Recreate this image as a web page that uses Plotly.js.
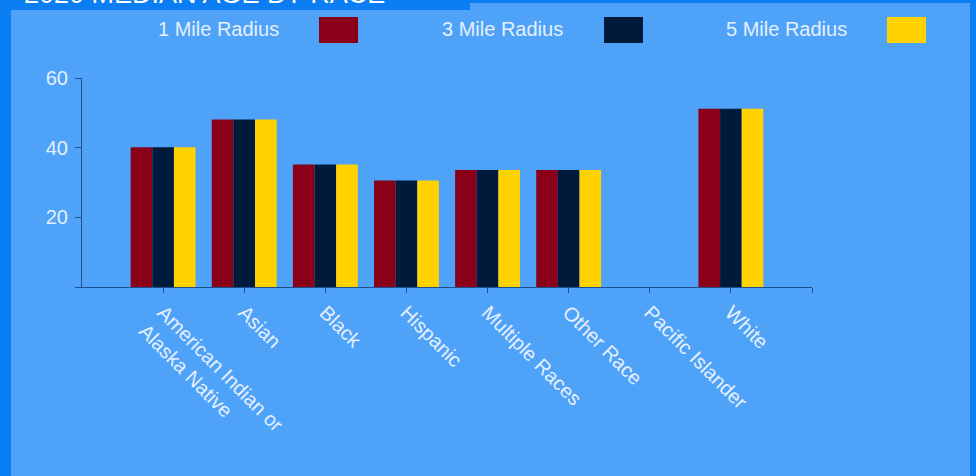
<!DOCTYPE html>
<html>
<head>
<meta charset="utf-8">
<script src="https://cdn.plot.ly/plotly-3.0.1.min.js"></script>
<style>
html,body{margin:0;padding:0;background:#4ea3f8;}
#chart{width:976px;height:476px;}
</style>
</head>
<body>
<div id="chart"></div>
<script>
// ---- data ----
var categories = ["American Indian or<br>Alaska Native", "Asian", "Black", "Hispanic", "Multiple Races", "Other Race", "Pacific Islander", "White"];
var seriesNames = ["1 Mile Radius", "3 Mile Radius", "5 Mile Radius"];
var mile1 = [40.1, 48.1, 35.2, 30.6, 33.6, 33.6, null, 51.2];
var mile3 = [40.1, 48.1, 35.2, 30.6, 33.6, 33.6, null, 51.2];
var mile5 = [40.1, 48.1, 35.2, 30.6, 33.6, 33.6, null, 51.2];
var yTicks = [20, 40, 60];
var titleText = "2020 MEDIAN AGE BY RACE";

// ---- style ----
var colors = ["#8a0019", "#001a3b", "#ffd200"];
var W = 976, H = 476;
var M = {l: 82, r: 164, t: 78, b: 189};
var pw = W - M.l - M.r, ph = H - M.t - M.b;
function px(x){ return (x - M.l) / pw; }
function py(y){ return (H - M.b - y) / ph; }
var textColor = "#e6efff";
var fontFam = "Liberation Sans, Arial, sans-serif";

var xIdx = categories.map(function(c, i){ return i; });
var allVals = [mile1, mile3, mile5];
var traces = allVals.map(function(v, k){
  return {
    type: "bar",
    x: xIdx,
    y: v,
    name: seriesNames[k],
    marker: {color: colors[k], line: {width: 0}},
    hoverinfo: "y+name"
  };
});

var shapes = [
  {type: "rect", xref: "paper", yref: "paper", x0: px(0), x1: px(11), y0: py(476), y1: py(0), fillcolor: "#0a7ef2", line: {width: 0}, layer: "below"},
  {type: "rect", xref: "paper", yref: "paper", x0: px(970), x1: px(976), y0: py(476), y1: py(0), fillcolor: "#0a7ef2", line: {width: 0}, layer: "below"},
  {type: "rect", xref: "paper", yref: "paper", x0: px(0), x1: px(976), y0: py(3), y1: py(0), fillcolor: "#0a7ef2", line: {width: 0}, layer: "below"},
  {type: "rect", xref: "paper", yref: "paper", x0: px(0), x1: px(470), y0: py(10), y1: py(0), fillcolor: "#0a7ef2", line: {width: 0}, layer: "below"}
];
var annotations = [
  {text: titleText, xref: "paper", yref: "paper", x: px(22), y: py(11), xanchor: "left", yanchor: "bottom", showarrow: false, font: {family: fontFam, size: 27, color: "#ffffff"}}
];
var legendTextX = [218, 502, 786];
var legendBoxX = [319, 604, 887];
seriesNames.forEach(function(n, k){
  annotations.push({text: n, xref: "paper", yref: "paper", x: px(legendTextX[k]), y: py(29), xanchor: "center", yanchor: "middle", showarrow: false, font: {family: fontFam, size: 20, color: textColor}});
  shapes.push({type: "rect", xref: "paper", yref: "paper", x0: px(legendBoxX[k]), x1: px(legendBoxX[k] + 39), y0: py(43), y1: py(17), fillcolor: colors[k], line: {width: 0}});
});

var layout = {
  width: W, height: H,
  margin: M,
  paper_bgcolor: "#4ea3f8",
  plot_bgcolor: "rgba(0,0,0,0)",
  showlegend: false,
  barmode: "group",
  bargap: 0.2,
  bargroupgap: 0,
  font: {family: fontFam, size: 20, color: textColor},
  xaxis: {
    range: [-1, 8],
    tickmode: "array",
    tickvals: xIdx.concat([8]),
    ticktext: categories.concat([""]),
    tickangle: 45,
    ticks: "outside", ticklen: 5, tickcolor: "#1f4e8c", tickwidth: 1,
    showline: true, linecolor: "#1f4e8c", linewidth: 1,
    showgrid: false, zeroline: false,
    tickfont: {family: fontFam, size: 20, color: textColor},
    fixedrange: true
  },
  yaxis: {
    range: [0, 60],
    tickmode: "array",
    tickvals: [0].concat(yTicks),
    ticktext: [""].concat(yTicks.map(String)),
    ticks: "outside", ticklen: 6, tickcolor: "#1f4e8c", tickwidth: 1,
    ticklabelstandoff: 3,
    showline: true, linecolor: "#1f4e8c", linewidth: 1,
    showgrid: false, zeroline: false,
    tickfont: {family: fontFam, size: 20, color: textColor},
    fixedrange: true
  },
  shapes: shapes,
  annotations: annotations
};
Plotly.newPlot("chart", traces, layout, {displayModeBar: false, staticPlot: false});
</script>
</body>
</html>
